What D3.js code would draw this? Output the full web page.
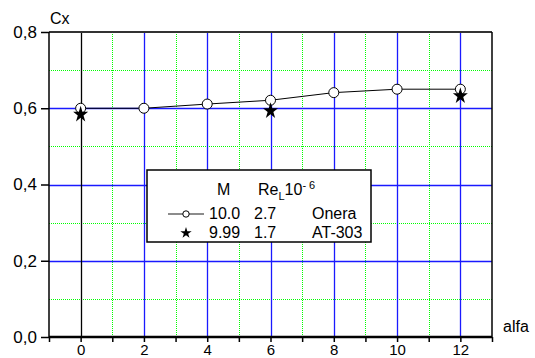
<!DOCTYPE html>
<html><head><meta charset="utf-8">
<script src="https://cdn.jsdelivr.net/npm/d3@7"></script>
<style>body{margin:0;background:#fff}svg{display:block}text{font-family:"Liberation Sans",Arial,sans-serif;fill:#000}</style>
</head><body><svg id="c" width="535" height="358"></svg>
<script>
const oneraAlfa = [0, 2, 4, 6, 8, 10, 12];
const oneraCx = [0.60, 0.60, 0.611, 0.621, 0.641, 0.650, 0.650];
const at303Alfa = [0, 6, 12];
const at303Cx = [0.584, 0.593, 0.632];
const xTicks = [0, 2, 4, 6, 8, 10, 12];
const xMinor = [-1, 1, 3, 5, 7, 9, 11, 13];
const yTicks = [0.0, 0.2, 0.4, 0.6, 0.8];
const yMinor = [0.1, 0.3, 0.5, 0.7];
const legendRows = [
  {sym: "circle", M: "10.0", Re: "2.7", name: "Onera"},
  {sym: "star", M: "9.99", Re: "1.7", name: "AT-303"}
];

const svg = d3.select("#c");
const L = 49, R = 492, T = 32, B = 337;
const x = d3.scaleLinear().domain([-1, 13]).range([L, R]);
const y = d3.scaleLinear().domain([0, 0.8]).range([B, T]);
const fmt = d => d3.format(".1f")(d).replace(".", ",");
const px = v => Math.round(v) + 0.5;
const FF = "Liberation Sans, Arial, sans-serif";

// grid minor (green dotted)
const g = svg.append("g");
g.selectAll(".vm").data(xMinor.filter(d => d > -1 && d < 13)).join("line")
  .attr("x1", d => px(x(d))).attr("x2", d => px(x(d))).attr("y1", T).attr("y2", B)
  .attr("stroke", "#00ff00").attr("stroke-width", 1).attr("stroke-dasharray", "1,1");
g.selectAll(".hm").data(yMinor).join("line")
  .attr("x1", L).attr("x2", R).attr("y1", d => px(y(d))).attr("y2", d => px(y(d)))
  .attr("stroke", "#00ff00").attr("stroke-width", 1).attr("stroke-dasharray", "1,1");
// major grid (blue)
g.selectAll(".vM").data(xTicks.filter(d => d !== 0)).join("line")
  .attr("x1", d => px(x(d))).attr("x2", d => px(x(d))).attr("y1", T).attr("y2", B)
  .attr("stroke", "#1a1aff").attr("stroke-width", 1.3);
g.selectAll(".hM").data(yTicks.filter(d => d > 0 && d < 0.8)).join("line")
  .attr("x1", L).attr("x2", R).attr("y1", d => px(y(d))).attr("y2", d => px(y(d)))
  .attr("stroke", "#1a1aff").attr("stroke-width", 1.3);
// zero line
g.append("line").attr("x1", px(x(0))).attr("x2", px(x(0))).attr("y1", T).attr("y2", B)
  .attr("stroke", "#000").attr("stroke-width", 1.3);

// frame
svg.append("line").attr("x1", L).attr("x2", R).attr("y1", T).attr("y2", T).attr("stroke", "#333").attr("stroke-width", 2);
svg.append("line").attr("x1", R).attr("x2", R).attr("y1", T).attr("y2", B).attr("stroke", "#000").attr("stroke-width", 1.5);

// axes
const xAxis = d3.axisBottom(x).tickValues(xTicks).tickSize(5).tickPadding(2).tickFormat(d3.format("d"));
const xa = svg.append("g").attr("transform", `translate(0,${B})`).call(xAxis);
xa.select(".domain").attr("stroke-width", 2.5).attr("d", `M${L},0H${R}`);
xa.selectAll(".tick line").attr("stroke-width", 1.5);
xa.selectAll(".tick text").attr("font-size", 15).attr("font-family", FF).attr("dy", "0.71em");
const xm = svg.append("g").attr("transform", `translate(0,${B})`)
  .call(d3.axisBottom(x).tickValues(xMinor).tickSize(5).tickFormat(""));
xm.select(".domain").remove();
xm.selectAll(".tick line").attr("stroke-width", 1.5);

const yAxis = d3.axisLeft(y).tickValues(yTicks).tickSize(8).tickPadding(4).tickFormat(fmt);
const ya = svg.append("g").attr("transform", `translate(${L},0)`).call(yAxis);
ya.select(".domain").attr("stroke-width", 1.5).attr("d", `M0,${T}V${B}`);
ya.selectAll(".tick line").attr("stroke-width", 1.5);
ya.selectAll(".tick text").attr("font-size", 17).attr("font-family", FF);

// axis titles
svg.append("text").attr("x", 50).attr("y", 24).attr("font-size", 16).text("Cx");
svg.append("text").attr("x", 503).attr("y", 332).attr("font-size", 16).text("alfa");

// data: Onera line + circles
const pts = oneraAlfa.map((a, i) => [a, oneraCx[i]]);
svg.append("path").datum(pts)
  .attr("d", d3.line().x(d => x(d[0])).y(d => y(d[1])))
  .attr("fill", "none").attr("stroke", "#000").attr("stroke-width", 1);

const star = d3.symbol().type(d3.symbolStar);
const starPts = at303Alfa.map((a, i) => [a, at303Cx[i]]);
svg.selectAll(".ci").data(pts).join("circle")
  .attr("cx", d => x(d[0])).attr("cy", d => y(d[1])).attr("r", 5)
  .attr("fill", "#fff").attr("stroke", "#000").attr("stroke-width", 1);
svg.selectAll(".st").data(starPts).join("path")
  .attr("transform", d => `translate(${x(d[0])},${y(d[1])}) scale(1,1.1)`)
  .attr("d", star.size(70)()).attr("fill", "#000");

// legend
const lg = svg.append("g");
lg.append("rect").attr("x", 147).attr("y", 170).attr("width", 224).attr("height", 72)
  .attr("fill", "#fff").attr("stroke", "#000").attr("stroke-width", 1.5);
lg.append("text").attr("x", 217).attr("y", 195).attr("font-size", 16).text("M");
const re = lg.append("text").attr("x", 258).attr("y", 195).attr("font-size", 16);
re.append("tspan").text("Re");
re.append("tspan").attr("dy", 5).attr("font-size", 11).text("L");
re.append("tspan").attr("dy", -5).text("10");
re.append("tspan").attr("dy", -6).attr("font-size", 11).text("- 6");
const rowY = [219, 238];
legendRows.forEach((r, i) => {
  const yy = rowY[i];
  if (r.sym === "circle") {
    lg.append("line").attr("x1", 168).attr("x2", 204).attr("y1", yy - 5).attr("y2", yy - 5)
      .attr("stroke", "#666").attr("stroke-width", 1.5);
    lg.append("circle").attr("cx", 186).attr("cy", yy - 5).attr("r", 3.2)
      .attr("fill", "#fff").attr("stroke", "#000").attr("stroke-width", 1);
  } else {
    lg.append("path").attr("transform", `translate(186,${yy - 5})`)
      .attr("d", d3.symbol().type(d3.symbolStar).size(40)()).attr("fill", "#000");
  }
  lg.append("text").attr("x", 209).attr("y", yy).attr("font-size", 16).text(r.M);
  lg.append("text").attr("x", 254).attr("y", yy).attr("font-size", 16).text(r.Re);
  lg.append("text").attr("x", 312).attr("y", yy).attr("font-size", 16).text(r.name);
});
</script></body></html>
